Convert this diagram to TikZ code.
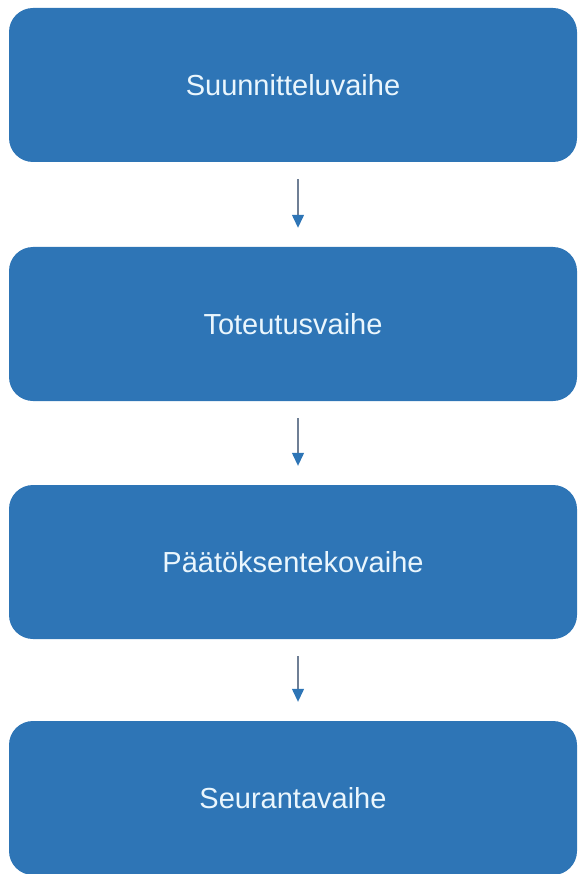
\documentclass[tikz,border=0pt]{standalone}
\usepackage{fontspec}
\setmainfont{Liberation Sans}
\usepackage{xcolor}
\usetikzlibrary{arrows.meta}
\definecolor{phaseblue}{HTML}{2E75B6}
\definecolor{phasetext}{HTML}{EAF6FD}
\definecolor{linkgray}{HTML}{6F7F95}

\begin{document}
\begin{tikzpicture}[x=1pt, y=-1pt,
    phase/.style={fill=phaseblue, rounded corners=24pt, minimum width=568pt,
      minimum height=154pt, inner sep=0pt, text=phasetext,
      font=\fontsize{29}{34}\selectfont},
    link/.style={draw=linkgray, line width=1.3pt,
      -{Triangle[length=13pt, width=12pt, color=phaseblue]},
      shorten <=17pt, shorten >=19pt}]
    \useasboundingbox (0,0) rectangle (582,874);
    \node[phase] (plan) at (293,85) {Suunnitteluvaihe};
    \node[phase] (impl) at (293,324) {Toteutusvaihe};
    \node[phase] (dec) at (293,562) {Päätöksentekovaihe};
    \node[phase] (mon) at (293,798) {Seurantavaihe};
    \draw[link] ([xshift=5pt]plan.south) -- ([xshift=5pt]impl.north);
    \draw[link] ([xshift=5pt]impl.south) -- ([xshift=5pt]dec.north);
    \draw[link] ([xshift=5pt]dec.south) -- ([xshift=5pt]mon.north);
  \end{tikzpicture}
\end{document}
